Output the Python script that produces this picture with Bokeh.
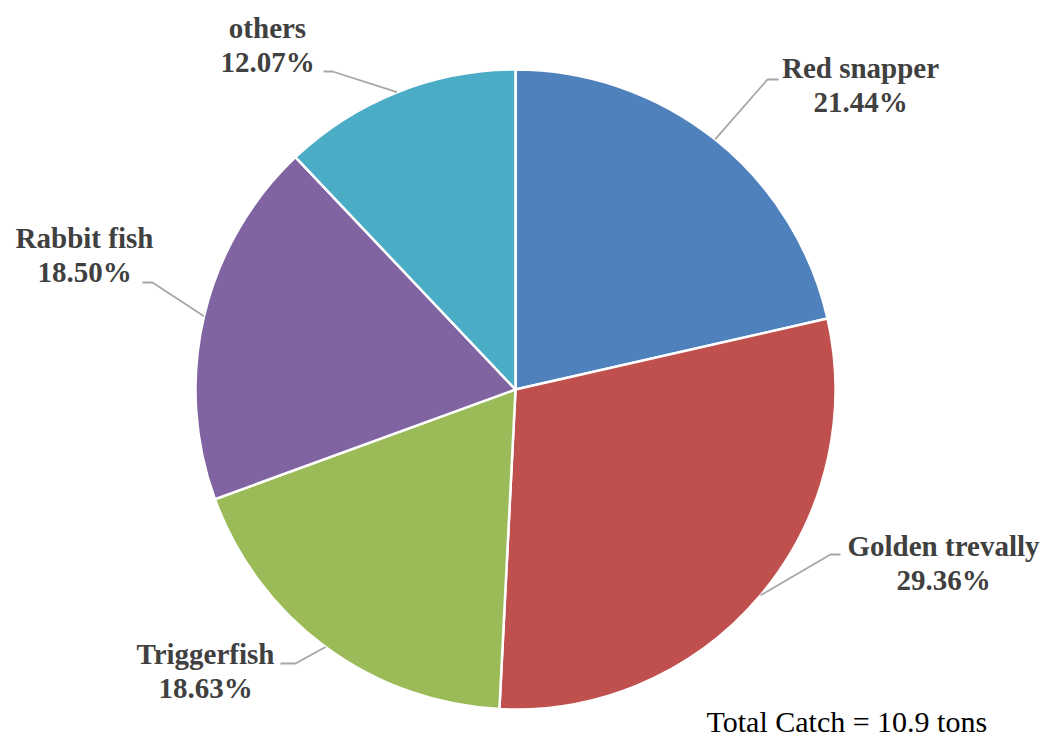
import numpy as np
from bokeh.plotting import figure
from bokeh.models import Range1d, ColumnDataSource
from bokeh.core.properties import value
from bokeh.embed import file_html
from bokeh.resources import INLINE

# ---- data ----
species = ["Red snapper", "Golden trevally", "Triggerfish", "Rabbit fish", "others"]
shares = [21.44, 29.36, 18.63, 18.50, 12.07]
colors = ["#4F81BD", "#C0504D", "#9BBB59", "#8064A2", "#4BACC6"]
total_note = "Total Catch = 10.9 tons"

# ---- layout (pixel coordinates, y measured from top) ----
W, H = 1044, 740
CX, CY, R = 515, 389, 320
# label anchor (center x, baseline of first line), elbow point, line end point
label_xy = [(860, 67), (943, 545), (205, 653), (84, 237), (267, 27)]
elbow_xy = [(767, 79), (830, 554), (295, 663), (152, 282), (332, 71)]
end_xy = [(778, 79), (840, 554), (280, 663), (142, 282), (323, 71)]
LINE_GAP = 34
note_xy = (706, 721)


def Y(py):
    return H - py


p = figure(width=W, height=H, x_range=Range1d(0, W), y_range=Range1d(0, H),
           output_backend="svg", toolbar_location=None,
           x_axis_location=None, y_axis_location=None, min_border=0)
p.grid.visible = False
p.outline_line_color = None
p.background_fill_color = "white"
p.border_fill_color = "white"

frac = np.array(shares) / sum(shares)
cum = np.concatenate([[0.0], np.cumsum(frac)])
a_start = np.pi / 2 - 2 * np.pi * cum[:-1]
a_end = np.pi / 2 - 2 * np.pi * cum[1:]

src = ColumnDataSource(dict(start=a_end, end=a_start, color=colors, name=species))
p.wedge(x=CX, y=Y(CY), radius=R, start_angle="start", end_angle="end",
        fill_color="color", line_color="white", line_width=2.5, source=src)

mid = (a_start + a_end) / 2
xs, ys = [], []
for i in range(len(species)):
    ex = CX + R * np.cos(mid[i])
    ey = Y(CY) + R * np.sin(mid[i])
    xs.append([ex, elbow_xy[i][0], end_xy[i][0]])
    ys.append([ey, Y(elbow_xy[i][1]), Y(end_xy[i][1])])
p.multi_line(xs=xs, ys=ys, line_color="#A6A6A6", line_width=1.8)

lx = [c[0] for c in label_xy]
p.text(x=lx, y=[Y(c[1]) for c in label_xy], text=species,
       text_font=value("Liberation Serif"), text_font_style="bold",
       text_font_size="29px", text_color="#404040",
       text_align="center", text_baseline="alphabetic")
p.text(x=lx, y=[Y(c[1] + LINE_GAP) for c in label_xy],
       text=[f"{s:.2f}%" for s in shares],
       text_font=value("Liberation Serif"), text_font_style="bold",
       text_font_size="29px", text_color="#404040",
       text_align="center", text_baseline="alphabetic")

p.text(x=[note_xy[0]], y=[Y(note_xy[1])], text=[total_note],
       text_font=value("Liberation Serif"), text_font_size="30px",
       text_color="black", text_align="left", text_baseline="alphabetic")

open("out.html", "w").write(file_html(p, INLINE))
